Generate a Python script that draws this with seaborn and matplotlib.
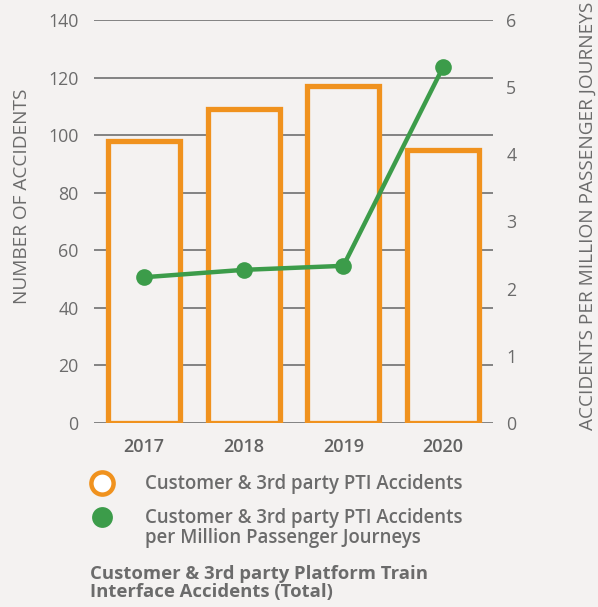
import matplotlib
matplotlib.use("Agg")
import matplotlib.pyplot as plt
import seaborn as sns
import pandas as pd
from matplotlib.lines import Line2D

years = ["2017", "2018", "2019", "2020"]
accidents = [98, 109, 117, 95]
rate = [2.17, 2.28, 2.34, 5.30]
left_ticks = [0, 20, 40, 60, 80, 100, 120, 140]
right_ticks = [0, 1, 2, 3, 4, 5, 6]
legend_labels = ["Customer & 3rd party PTI Accidents",
                 "Customer & 3rd party PTI Accidents\nper Million Passenger Journeys"]
title = "Customer & 3rd party Platform Train\nInterface Accidents (Total)"

BG = "#f4f2f1"
ORANGE = "#f0921e"
GREEN = "#3c9c4a"
GRID = "#7a7a7a"
TXT = "#6b6b6b"

sns.set_style("white")
plt.rcParams["font.family"] = ["Open Sans", "DejaVu Sans"]

df = pd.DataFrame({"year": years, "accidents": accidents, "rate": rate})

W, H = 598, 607
fig = plt.figure(figsize=(W / 100, H / 100), dpi=100, facecolor=BG)
ax = fig.add_axes([94 / W, 1 - 423 / H, 399 / W, 403 / H])
ax.set_facecolor(BG)

ax.set_ylim(0, 140)
ax.set_yticks(left_ticks)
ax.yaxis.grid(True, color=GRID, linewidth=1.3)
ax.set_axisbelow(True)

sns.barplot(data=df, x="year", y="accidents", ax=ax, color=BG, edgecolor=ORANGE,
            linewidth=3.8, width=0.72, zorder=3)
ax.set_xlim(-0.5, 3.5)
for s in ax.spines.values():
    s.set_visible(False)
ax.tick_params(axis="y", length=0, labelsize=12.8, labelcolor=TXT, pad=11)
ax.tick_params(axis="x", length=0, labelsize=13, labelcolor="#626262", pad=11)
for t in ax.get_xticklabels():
    t.set_fontweight("semibold")
ax.set_xlabel("")
ax.set_ylabel("NUMBER OF ACCIDENTS", fontsize=13.7, color=TXT)
ax.yaxis.set_label_coords(-0.157, 0.563)

ax2 = ax.twinx()
ax2.set_ylim(0, 6)
ax2.set_yticks(right_ticks)
sns.lineplot(x=[0, 1, 2, 3], y=rate, ax=ax2, color=GREEN, linewidth=3.2,
             marker="o", markersize=12, markeredgewidth=0, zorder=5)
ax2.set_xlim(-0.5, 3.5)
for s in ax2.spines.values():
    s.set_visible(False)
ax2.tick_params(axis="y", length=0, labelsize=12.8, labelcolor=TXT, pad=9.5)
ax2.set_ylabel("ACCIDENTS PER MILLION PASSENGER JOURNEYS", fontsize=13.7, color=TXT,
               rotation=90)
ax2.yaxis.set_label_coords(1.2155, 0.5136)

# legend (manual layout)
fig.add_artist(Line2D([101.7 / W], [1 - 482.7 / H], transform=fig.transFigure,
                      linestyle="none", marker="o", markersize=16,
                      markerfacecolor="white", markeredgecolor=ORANGE,
                      markeredgewidth=3.2))
fig.add_artist(Line2D([101.7 / W], [1 - 516.7 / H], transform=fig.transFigure,
                      linestyle="none", marker="o", markersize=15,
                      markerfacecolor=GREEN, markeredgewidth=0))
fig.text(145 / W, 1 - 484 / H, legend_labels[0], fontsize=13.4, fontweight="semibold",
         color=TXT, ha="left", va="center")
fig.text(145 / W, 1 - 528 / H, legend_labels[1], fontsize=13.4, fontweight="semibold",
         color=TXT, ha="left", va="center", linespacing=1.0)

fig.text(90 / W, 1 - 583 / H, title, fontsize=13.3, fontweight="bold", color=TXT,
         va="center", ha="left", linespacing=1.02)

fig.savefig("out.png", dpi=100, facecolor=BG)
